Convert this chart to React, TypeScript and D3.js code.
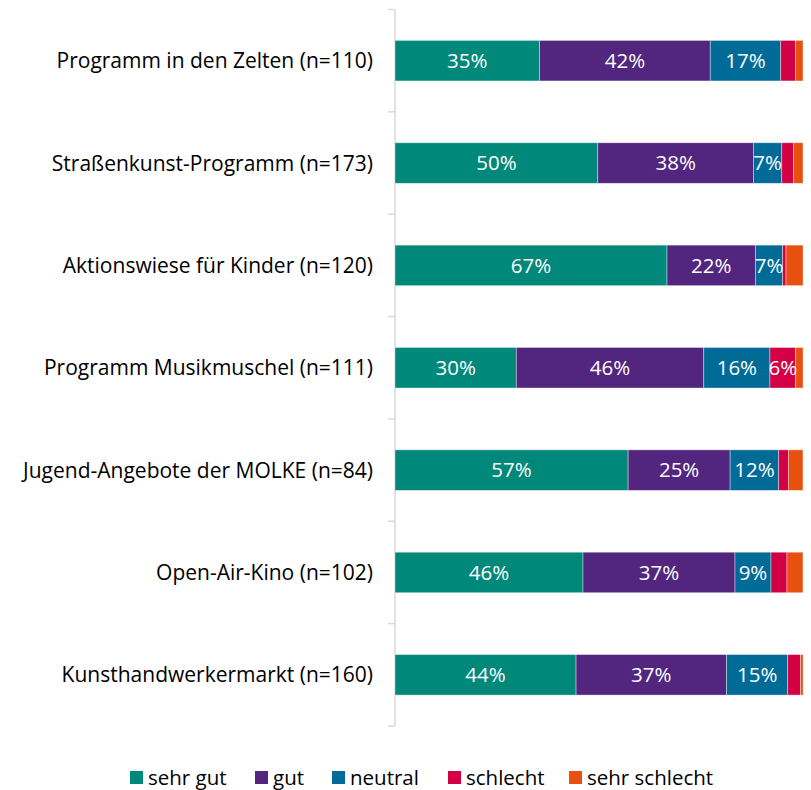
import React, { useRef, useEffect } from "react";
import * as d3 from "d3";

// categories, top to bottom
const categories = [
  "Programm in den Zelten (n=110)",
  "Straßenkunst-Programm (n=173)",
  "Aktionswiese für Kinder (n=120)",
  "Programm Musikmuschel (n=111)",
  "Jugend-Angebote der MOLKE (n=84)",
  "Open-Air-Kino (n=102)",
  "Kunsthandwerkermarkt (n=160)",
];

const seriesNames = ["sehr gut", "gut", "neutral", "schlecht", "sehr schlecht"];

// shares in percent, per category
const sehrGut = [35.45, 49.71, 66.67, 29.73, 57.14, 46.08, 44.38];
const gut = [41.82, 38.15, 21.67, 45.95, 25.0, 37.25, 36.88];
const neutral = [17.27, 6.94, 6.67, 16.22, 11.9, 8.82, 15.0];
const schlecht = [3.64, 2.89, 0.83, 6.31, 2.38, 3.92, 3.13];
const sehrSchlecht = [1.82, 2.31, 4.17, 1.8, 3.57, 3.92, 0.63];

const colors = ["#00887a", "#52267f", "#006b97", "#d40045", "#e8500f"];

const App = () => {
  const ref = useRef(null);

  useEffect(() => {
    const svg = d3.select(ref.current);
    svg.selectAll("*").remove();

    const font = "'Open Sans', sans-serif";

    const rows = categories.map((c, i) => ({
      cat: c,
      "sehr gut": sehrGut[i],
      gut: gut[i],
      neutral: neutral[i],
      schlecht: schlecht[i],
      "sehr schlecht": sehrSchlecht[i],
    }));

    const stacked = d3.stack().keys(seriesNames)(rows);

    const x = d3.scaleLinear().domain([0, 100]).range([395, 803]);
    const y = d3
      .scaleBand()
      .domain(categories)
      .range([9.5, 726])
      .paddingInner(0.604)
      .paddingOuter(0.302);

    // axis line + ticks at band edges
    const axis = svg.append("g").attr("stroke", "#d9d9d9").attr("stroke-width", 1.5);
    axis.append("line").attr("x1", 395).attr("x2", 395).attr("y1", 9.5).attr("y2", 726);
    const step = (726 - 9.5) / categories.length;
    d3.range(categories.length + 1).forEach((i) => {
      axis
        .append("line")
        .attr("x1", 388)
        .attr("x2", 395)
        .attr("y1", 9.5 + i * step)
        .attr("y2", 9.5 + i * step);
    });

    // bars
    svg
      .append("g")
      .selectAll("g")
      .data(stacked)
      .join("g")
      .attr("fill", (d, i) => colors[i])
      .selectAll("rect")
      .data((d) => d)
      .join("rect")
      .attr("x", (d) => x(d[0]))
      .attr("y", (d) => y(d.data.cat))
      .attr("width", (d) => x(d[1]) - x(d[0]))
      .attr("height", y.bandwidth())
      .attr("stroke", "#ffffff")
      .attr("stroke-opacity", 0.5)
      .attr("stroke-width", 0.75);

    // value labels
    svg
      .append("g")
      .selectAll("g")
      .data(stacked)
      .join("g")
      .selectAll("text")
      .data((d) => d.filter((p) => p[1] - p[0] >= 5))
      .join("text")
      .attr("x", (d) => (x(d[0]) + x(d[1])) / 2)
      .attr("y", (d) => y(d.data.cat) + y.bandwidth() / 2)
      .attr("dy", "0.36em")
      .attr("text-anchor", "middle")
      .attr("fill", "#ffffff")
      .attr("font-family", font)
      .attr("font-size", "20.5px")
      .text((d) => `${Math.round(d[1] - d[0])}%`);

    // category labels
    svg
      .append("g")
      .selectAll("text")
      .data(categories)
      .join("text")
      .attr("x", 373)
      .attr("y", (d) => y(d) + y.bandwidth() / 2)
      .attr("dy", "0.36em")
      .attr("text-anchor", "end")
      .attr("fill", "#000000")
      .attr("font-family", font)
      .attr("font-size", "21px")
      .text((d) => d);

    // legend
    const legendX = [130, 255, 332, 448, 569];
    const legend = svg
      .append("g")
      .selectAll("g")
      .data(seriesNames)
      .join("g")
      .attr("transform", (d, i) => `translate(${legendX[i]},771)`);
    legend
      .append("rect")
      .attr("width", 13)
      .attr("height", 13)
      .attr("fill", (d, i) => colors[i]);
    legend
      .append("text")
      .attr("x", 18)
      .attr("y", 13.5)
      .attr("fill", "#000000")
      .attr("font-family", font)
      .attr("font-size", "20.5px")
      .text((d) => d);
  }, []);

  return (
    <svg
      ref={ref}
      width={811}
      height={790}
      style={{ position: "absolute", left: 0, top: 0 }}
    ></svg>
  );
};

export default App;
